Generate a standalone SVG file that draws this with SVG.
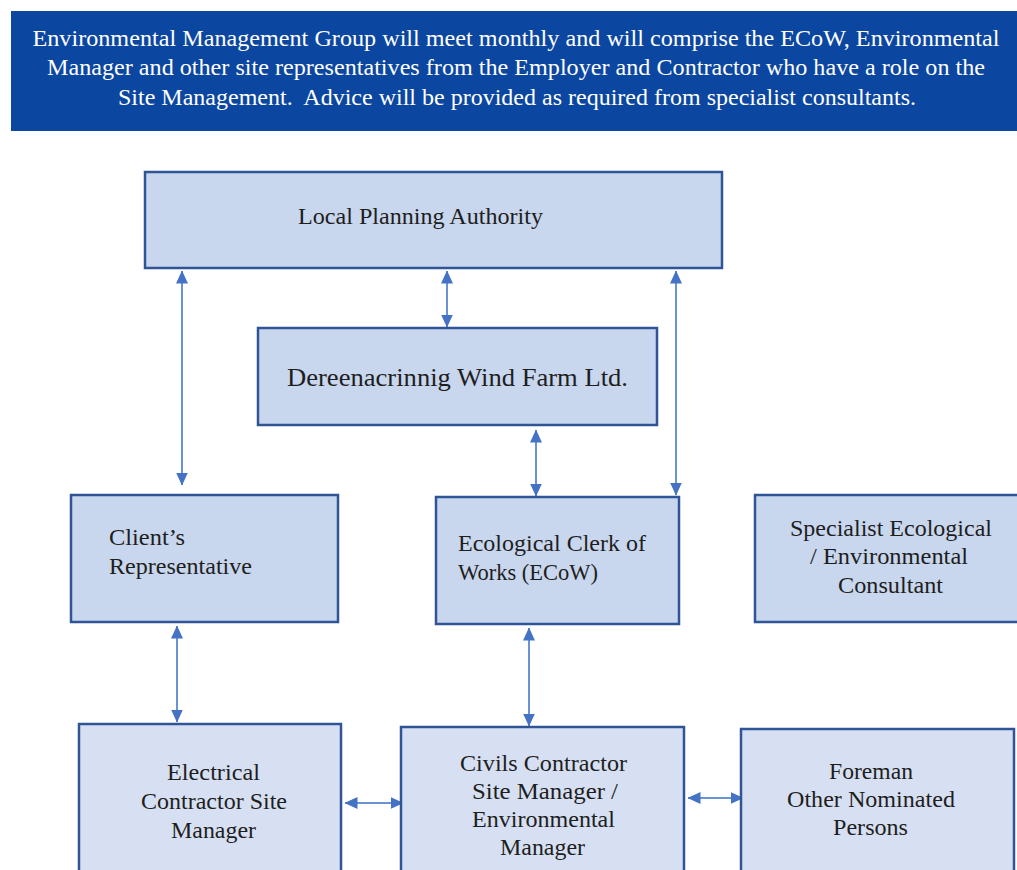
<svg xmlns="http://www.w3.org/2000/svg" width="1017" height="870" viewBox="0 0 1017 870">
<style>
.hdr{fill:#0b46a0}
.box{fill:#c8d6ee;stroke:#2f5597;stroke-width:2.5}
.box2{fill:#d6e0f2;stroke:#2f5597;stroke-width:2.5}
.ln{stroke:#6a93d6;stroke-width:2;fill:none;marker-start:url(#ah);marker-end:url(#ah)}
</style>
<defs>
<marker id="ah" viewBox="0 0 13 12" refX="12.5" refY="6" markerWidth="13" markerHeight="12" orient="auto-start-reverse" markerUnits="userSpaceOnUse">
<path d="M0,0 L13,6 L0,12 Z" fill="#4472c4"/>
</marker>
</defs>
<rect width="1017" height="870" fill="#ffffff"/>
<g id="header" font-family="Liberation Serif, Times New Roman, serif" font-size="24" fill="#ffffff" text-anchor="middle">
<rect class="hdr" x="11" y="11" width="1006" height="120"/>
<text x="516" y="46" textLength="967" lengthAdjust="spacingAndGlyphs">Environmental Management Group will meet monthly and will comprise the ECoW, Environmental</text>
<text x="516" y="75" textLength="938" lengthAdjust="spacingAndGlyphs">Manager and other site representatives from the Employer and Contractor who have a role on the</text>
<text x="517" y="105" textLength="798" lengthAdjust="spacingAndGlyphs">Site Management.&#160; Advice will be provided as required from specialist consultants.</text>
</g>
<g id="connectors">
<line class="ln" x1="182" y1="271" x2="182" y2="485"/>
<line class="ln" x1="447" y1="271" x2="447" y2="327"/>
<line class="ln" x1="676" y1="271" x2="676" y2="495"/>
<line class="ln" x1="536" y1="430" x2="536" y2="496"/>
<line class="ln" x1="177" y1="626" x2="177" y2="722"/>
<line class="ln" x1="529" y1="628" x2="529" y2="726"/>
<line class="ln" x1="345" y1="803" x2="403" y2="803"/>
<line class="ln" x1="688" y1="798" x2="743" y2="798"/>
</g>
<g id="lpa" font-family="Liberation Serif, Times New Roman, serif" font-size="24" fill="#1e1e1e">
<rect class="box" x="145" y="172" width="577" height="96"/>
<text x="298" y="224" textLength="245" lengthAdjust="spacingAndGlyphs">Local Planning Authority</text>
</g>
<g id="dwf" font-family="Liberation Serif, Times New Roman, serif" font-size="26" fill="#1e1e1e">
<rect class="box" x="258" y="328" width="399" height="97"/>
<text x="287" y="386" textLength="341" lengthAdjust="spacingAndGlyphs">Dereenacrinnig Wind Farm Ltd.</text>
</g>
<g id="client" font-family="Liberation Serif, Times New Roman, serif" font-size="24" fill="#1e1e1e">
<rect class="box" x="71" y="495" width="267" height="127"/>
<text x="109" y="545" textLength="76" lengthAdjust="spacingAndGlyphs">Client’s</text>
<text x="109" y="574" textLength="143" lengthAdjust="spacingAndGlyphs">Representative</text>
</g>
<g id="ecow" font-family="Liberation Serif, Times New Roman, serif" font-size="24" fill="#1e1e1e">
<rect class="box" x="436" y="497" width="243" height="127"/>
<text x="458" y="551" textLength="188" lengthAdjust="spacingAndGlyphs">Ecological Clerk of</text>
<text x="458" y="580" textLength="140" lengthAdjust="spacingAndGlyphs">Works (ECoW)</text>
</g>
<g id="specialist" font-family="Liberation Serif, Times New Roman, serif" font-size="24" fill="#1e1e1e">
<rect class="box" x="755" y="495" width="270" height="127"/>
<text x="790" y="536" textLength="202" lengthAdjust="spacingAndGlyphs">Specialist Ecological</text>
<text x="810" y="564" textLength="158" lengthAdjust="spacingAndGlyphs">/ Environmental</text>
<text x="838" y="593" textLength="105" lengthAdjust="spacingAndGlyphs">Consultant</text>
</g>
<g id="electrical" font-family="Liberation Serif, Times New Roman, serif" font-size="24" fill="#1e1e1e">
<rect class="box2" x="79" y="724" width="262" height="160"/>
<text x="167" y="780" textLength="93" lengthAdjust="spacingAndGlyphs">Electrical</text>
<text x="141" y="809" textLength="146" lengthAdjust="spacingAndGlyphs">Contractor Site</text>
<text x="171" y="838" textLength="85" lengthAdjust="spacingAndGlyphs">Manager</text>
</g>
<g id="civils" font-family="Liberation Serif, Times New Roman, serif" font-size="24" fill="#1e1e1e">
<rect class="box2" x="401" y="727" width="283" height="160"/>
<text x="460" y="771" textLength="167" lengthAdjust="spacingAndGlyphs">Civils Contractor</text>
<text x="472" y="799" textLength="146" lengthAdjust="spacingAndGlyphs">Site Manager /</text>
<text x="472" y="827" textLength="143" lengthAdjust="spacingAndGlyphs">Environmental</text>
<text x="500" y="855" textLength="85" lengthAdjust="spacingAndGlyphs">Manager</text>
</g>
<g id="foreman" font-family="Liberation Serif, Times New Roman, serif" font-size="24" fill="#1e1e1e">
<rect class="box2" x="741" y="729" width="273" height="160"/>
<text x="829" y="779" textLength="84" lengthAdjust="spacingAndGlyphs">Foreman</text>
<text x="787" y="807" textLength="168" lengthAdjust="spacingAndGlyphs">Other Nominated</text>
<text x="833" y="835" textLength="75" lengthAdjust="spacingAndGlyphs">Persons</text>
</g>
</svg>
